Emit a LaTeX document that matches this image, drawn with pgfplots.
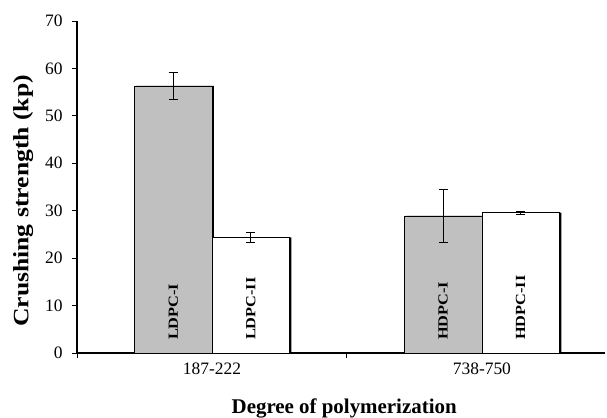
\documentclass[border=0pt]{standalone}
\usepackage{fontspec}
\setmainfont{Liberation Serif}
\newfontfamily\widefont{Liberation Serif}[FakeStretch=1.17]
\usepackage{pgfplots}
\usepackage{pgfplotstable}
\pgfplotsset{compat=1.18}

% crushing strength (kp), mean and standard deviation;
% x is the bar centre (category 0 or 1, shifted by half a bar width)
\pgfplotstableread{
x y err
-0.1435 56.3 2.9
0.8565 28.9 5.6
}\seriesI
\pgfplotstableread{
x y err
0.1435 24.4 1.1
1.1435 29.6 0.3
}\seriesII

\definecolor{barfill}{RGB}{192,192,192}

\begin{document}
\begin{tikzpicture}
\path[use as bounding box] (-77bp,-65bp) rectangle (530bp,353bp);
\begin{axis}[
  at={(0,0)}, anchor=south west,
  scale only axis,
  width=528bp, height=332bp,
  xmin=-0.5, xmax=1.456,
  ymin=0, ymax=70,
  axis x line=bottom, axis y line=left,
  axis line style={-, line width=1.2pt},
  ytick={0,10,...,70},
  xtick={-0.5,0.5},
  xticklabels={},
  extra x ticks={0,1},
  extra x tick labels={187-222,738-750},
  extra x tick style={major tick length=0pt},
  tick align=outside,
  major tick length=5bp,
  tick style={line width=1pt, black},
  /pgf/number format/assume math mode=true,
  ticklabel style={font=\fontsize{17.5}{17.5}\selectfont},
  yticklabel style={xshift=-6bp},
  xticklabel style={yshift=-6bp},
  xlabel={\textbf{Degree of polymerization}},
  xlabel style={at={(axis description cs:0.506,0)}, anchor=center, yshift=-55bp,
    font=\fontsize{21}{21}\selectfont},
  ylabel={\widefont\bfseries Crushing strength (kp)},
  ylabel style={at={(axis description cs:-0.102,0.458)}, anchor=center,
    font=\fontsize{22}{22}\selectfont},
  clip=false,
]
% drop shadows on the right edge of each bar
\addplot[ybar, bar width=0.287, bar shift=0.0074, fill=black, draw=none]
  table[x=x, y=y] {\seriesI};
\addplot[ybar, bar width=0.287, bar shift=0.0074, fill=black, draw=none]
  table[x=x, y=y] {\seriesII};
% bars with error bars
\addplot[ybar, bar width=0.287, bar shift=0, fill=barfill, draw=black, line width=0.8pt,
  error bars/.cd, y dir=both, y explicit,
  error bar style={line width=0.9pt, black},
  error mark options={rotate=90, line width=0.9pt, mark size=4.5bp, black}]
  table[x=x, y=y, y error=err] {\seriesI};
\addplot[ybar, bar width=0.287, bar shift=0, fill=white, draw=black, line width=0.8pt,
  error bars/.cd, y dir=both, y explicit,
  error bar style={line width=0.9pt, black},
  error mark options={rotate=90, line width=0.9pt, mark size=4.5bp, black}]
  table[x=x, y=y, y error=err] {\seriesII};
% bar names
\node[rotate=90, anchor=west, inner sep=0pt, font=\widefont\bfseries\fontsize{14}{14}\selectfont]
  at (axis cs:-0.1435,2.7) {LDPC-I};
\node[rotate=90, anchor=west, inner sep=0pt, font=\widefont\bfseries\fontsize{14}{14}\selectfont]
  at (axis cs:0.1435,2.7) {LDPC-II};
\node[rotate=90, anchor=west, inner sep=0pt, font=\widefont\bfseries\fontsize{14}{14}\selectfont]
  at (axis cs:0.8565,2.7) {HDPC-I};
\node[rotate=90, anchor=west, inner sep=0pt, font=\widefont\bfseries\fontsize{14}{14}\selectfont]
  at (axis cs:1.1435,2.7) {HDPC-II};
\end{axis}
\end{tikzpicture}
\end{document}
